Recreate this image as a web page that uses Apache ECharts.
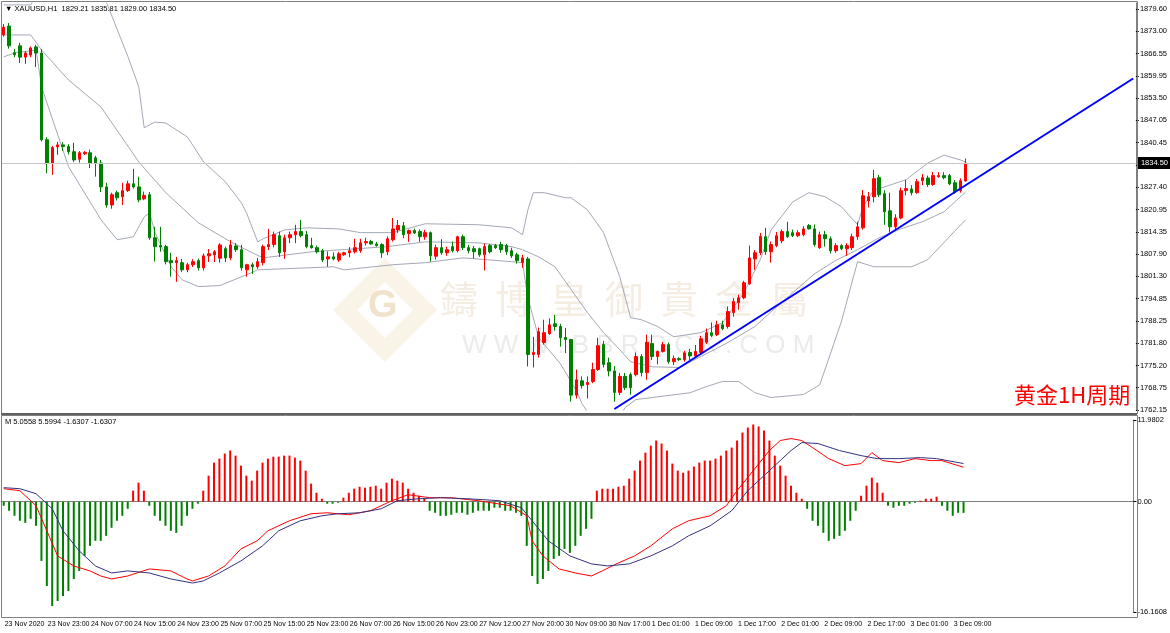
<!DOCTYPE html>
<html>
<head>
<meta charset="utf-8">
<script src="https://cdn.jsdelivr.net/npm/echarts@6/dist/echarts.min.js"></script>
<style>
  html, body { margin: 0; padding: 0; background: #fff; }
  #main { width: 1170px; height: 633px; }
</style>
</head>
<body>
<div id="main"></div>
<script>
// 数据 (hourly XAUUSD bars, [open, close, low, high])
const candles = [
  [1872.0,1874.3,1871.5,1875.2],[1874.6,1868.8,1868.0,1875.5],[1866.8,1866.2,1865.5,1867.9],[1868.8,1865.5,1863.8,1869.7],
  [1865.5,1866.7,1863.5,1867.3],[1866.1,1868.2,1865.5,1868.6],[1868.5,1866.7,1862.6,1869.1],[1866.7,1841.3,1840.8,1867.9],
  [1841.3,1834.5,1831.5,1842.0],[1834.5,1839.0,1831.0,1839.5],[1839.2,1839.8,1836.9,1840.7],[1839.8,1839.3,1838.0,1840.6],
  [1839.3,1837.8,1837.0,1840.0],[1837.8,1835.4,1834.8,1840.4],[1835.6,1837.5,1834.6,1838.0],[1837.2,1837.6,1836.8,1838.0],
  [1837.5,1834.5,1833.0,1838.4],[1836.0,1834.5,1830.5,1836.6],[1834.5,1827.5,1826.0,1835.4],[1827.5,1822.2,1821.4,1828.7],
  [1822.2,1825.2,1821.1,1825.8],[1825.8,1824.3,1823.5,1826.4],[1824.6,1826.4,1822.2,1828.7],[1826.4,1828.4,1826.0,1829.3],
  [1828.4,1827.5,1827.0,1832.8],[1827.5,1823.7,1823.0,1830.5],[1824.0,1825.0,1823.6,1826.1],[1825.2,1812.6,1812.0,1826.0],
  [1812.6,1810.0,1805.6,1815.8],[1810.3,1809.9,1808.5,1815.8],[1810.0,1805.6,1804.8,1810.5],[1805.9,1805.3,1801.2,1808.2],
  [1805.3,1805.9,1799.7,1807.0],[1805.3,1803.2,1802.6,1806.4],[1803.2,1804.7,1802.5,1805.3],[1804.7,1805.6,1804.0,1806.3],
  [1805.9,1803.8,1803.0,1806.5],[1803.8,1807.3,1803.0,1808.0],[1807.3,1807.9,1805.5,1809.3],[1807.6,1808.5,1805.5,1809.0],
  [1806.6,1810.5,1805.3,1811.0],[1809.4,1806.7,1805.5,1810.0],[1806.7,1810.5,1806.0,1812.0],[1810.2,1809.1,1808.5,1811.0],
  [1809.1,1803.8,1803.0,1810.5],[1803.2,1804.7,1801.2,1805.0],[1804.7,1804.1,1802.0,1805.3],[1804.1,1805.6,1803.5,1806.7],
  [1805.3,1810.0,1804.5,1810.6],[1810.0,1810.6,1809.0,1815.2],[1810.6,1813.5,1809.8,1814.4],[1813.2,1808.2,1807.0,1814.4],
  [1808.5,1812.6,1806.4,1813.5],[1812.6,1813.5,1811.0,1814.4],[1813.5,1814.4,1811.0,1816.4],[1814.4,1813.2,1812.7,1817.8],
  [1813.5,1810.0,1809.5,1814.6],[1810.3,1809.7,1809.4,1812.6],[1809.7,1808.5,1808.0,1810.3],[1808.8,1806.1,1805.5,1809.3],
  [1806.4,1807.0,1804.1,1808.6],[1807.0,1806.4,1806.0,1808.3],[1806.1,1807.9,1805.5,1808.5],[1807.6,1808.2,1807.3,1808.5],
  [1808.2,1808.8,1806.9,1809.9],[1808.5,1809.7,1808.0,1812.3],[1808.8,1811.1,1808.2,1812.3],[1811.1,1811.5,1810.3,1812.6],
  [1811.5,1810.8,1810.5,1812.0],[1810.8,1810.3,1810.0,1811.4],[1810.6,1808.2,1806.7,1811.0],[1808.5,1812.3,1807.5,1813.0],
  [1812.0,1815.2,1811.5,1818.4],[1814.9,1816.2,1814.0,1817.8],[1816.1,1813.5,1812.5,1817.2],[1813.8,1814.7,1811.4,1815.0],
  [1814.7,1814.0,1813.7,1815.3],[1814.4,1812.9,1811.4,1815.0],[1812.9,1814.1,1812.0,1814.9],[1814.1,1807.3,1805.6,1814.4],
  [1807.2,1809.7,1806.2,1810.6],[1809.7,1808.2,1807.6,1812.2],[1808.2,1809.1,1807.3,1810.0],[1810.0,1808.8,1808.3,1811.5],
  [1808.8,1812.9,1808.3,1813.2],[1812.9,1809.7,1809.0,1813.5],[1809.7,1808.8,1808.0,1810.5],[1809.4,1808.5,1806.5,1810.2],
  [1809.4,1807.6,1807.0,1809.7],[1807.6,1810.0,1803.0,1810.9],[1810.3,1808.5,1808.0,1810.8],[1810.3,1809.7,1809.3,1810.8],
  [1810.6,1809.1,1808.2,1811.4],[1810.3,1808.5,1807.6,1810.8],[1808.8,1807.3,1806.7,1809.7],[1807.6,1805.9,1805.0,1808.2],
  [1805.3,1806.7,1803.8,1807.6],[1806.4,1778.4,1774.9,1807.0],[1778.4,1779.0,1774.6,1783.6],[1778.4,1785.1,1777.5,1786.3],
  [1781.9,1784.8,1781.3,1788.6],[1784.5,1787.1,1784.2,1789.0],[1787.4,1786.6,1785.4,1790.0],[1786.6,1783.3,1780.7,1787.4],
  [1783.4,1782.8,1778.8,1786.2],[1782.8,1766.5,1764.6,1783.0],[1766.5,1771.0,1765.5,1774.0],[1770.7,1769.3,1768.4,1772.0],
  [1769.6,1770.2,1765.5,1772.0],[1770.5,1774.0,1770.0,1776.0],[1774.0,1781.0,1773.6,1783.3],[1781.3,1775.5,1774.6,1782.4],
  [1776.0,1773.6,1772.0,1777.5],[1773.6,1767.3,1764.6,1775.0],[1767.3,1772.0,1766.5,1773.0],[1772.0,1768.7,1768.0,1773.0],
  [1772.5,1768.7,1766.6,1773.1],[1772.5,1777.8,1772.0,1779.0],[1777.8,1773.1,1772.0,1778.5],[1773.1,1782.0,1771.0,1784.2],
  [1781.6,1777.8,1776.8,1784.2],[1777.8,1779.3,1775.5,1779.6],[1779.3,1781.3,1779.0,1782.1],[1781.3,1776.3,1775.7,1781.9],
  [1776.3,1777.2,1775.3,1778.1],[1777.2,1776.9,1776.5,1777.6],[1776.9,1778.9,1776.3,1779.5],[1779.0,1778.0,1776.8,1780.0],
  [1778.0,1779.3,1777.5,1781.2],[1779.0,1783.0,1778.6,1783.9],[1782.0,1784.8,1781.5,1786.0],[1784.8,1784.0,1783.5,1787.8],
  [1784.2,1787.1,1783.8,1788.3],[1787.1,1786.0,1785.5,1788.3],[1786.6,1791.0,1786.0,1792.5],[1790.7,1793.9,1789.5,1794.9],
  [1793.6,1795.0,1791.5,1795.9],[1795.0,1799.4,1794.6,1800.0],[1799.1,1806.7,1798.8,1810.3],[1806.4,1808.2,1803.2,1809.0],
  [1808.2,1813.0,1807.5,1814.0],[1812.9,1808.5,1807.6,1815.5],[1808.5,1810.6,1805.3,1811.5],[1810.3,1813.2,1809.8,1814.3],
  [1811.7,1814.4,1811.0,1815.0],[1814.4,1812.9,1812.5,1817.3],[1814.1,1813.2,1812.8,1815.0],[1813.2,1814.1,1812.8,1814.8],
  [1813.5,1815.2,1813.0,1816.0],[1816.2,1815.2,1815.0,1816.6],[1815.2,1810.6,1810.0,1816.5],[1809.7,1813.5,1809.3,1814.4],
  [1813.5,1812.3,1810.0,1814.6],[1812.3,1808.8,1808.0,1813.0],[1808.8,1810.3,1808.2,1811.0],[1810.3,1809.4,1809.0,1810.7],
  [1809.4,1810.3,1807.3,1811.0],[1809.7,1812.9,1809.0,1813.8],[1812.9,1815.8,1812.0,1817.3],[1815.5,1824.9,1815.0,1826.6],
  [1823.4,1824.6,1821.5,1826.0],[1824.6,1829.9,1823.0,1832.5],[1830.2,1825.2,1824.5,1831.0],[1825.5,1820.2,1816.4,1826.5],
  [1820.5,1815.8,1814.1,1825.8],[1815.8,1818.4,1815.0,1819.5],[1818.4,1826.4,1818.0,1827.3],[1826.4,1827.0,1825.0,1829.6],
  [1826.9,1825.8,1825.0,1828.0],[1825.8,1829.0,1825.5,1829.8],[1829.3,1830.2,1828.0,1831.3],[1830.1,1828.2,1827.5,1830.8],
  [1828.2,1830.8,1827.8,1831.9],[1830.5,1830.8,1830.2,1831.8],[1830.8,1830.2,1829.7,1831.8],[1830.8,1828.4,1828.0,1831.3],
  [1828.7,1826.1,1825.5,1829.5],[1826.4,1829.3,1825.8,1830.0],[1829.21,1834.50,1829.00,1835.81]
]

// Bollinger bands, [bar index, price]
const bbUpper = [[0,1880.8],[5,1880.8],[7,1886],[12,1893],[19,1881.6],[23,1865.6],[25,1856.8],[26,1844.8],[28,1846.5],
  [30,1846.2],[34,1842.1],[37,1834.8],[41,1829.0],[44,1822.8],[45,1819.6],[47,1811.4],[48,1812.3],[52,1814.9],[56,1815.5],
  [62,1815.2],[66,1814.1],[72,1814.1],[78,1816.7],[88,1816.4],[94,1815.5],[96,1813.5],[97,1820.8],[98,1825.8],[100,1825.8],
  [104,1824.3],[105,1824.3],[108,1820.8],[111,1814.1],[114,1801.2],[116,1789.2],[118,1788.6],[121,1786.6],[124,1783.6],
  [129,1784.8],[133,1787.7],[137,1796.5],[140,1806.2],[142,1814.9],[146,1823.1],[149,1825.8],[152,1824.6],[155,1821.7],
  [158,1816.4],[159,1821.7],[161,1826.6],[163,1827.5],[167,1829.6],[171,1834.5],[174,1836.8],[177,1835.4],[178,1834.8]]
const bbMiddle = [[0,1872.0],[5,1872.0],[7,1867.6],[12,1858.8],[18,1850.9],[25,1834.8],[30,1825.8],[36,1817.0],[42,1811.4],
  [46,1808.2],[48,1806.7],[57,1808.5],[71,1810.0],[78,1811.4],[88,1811.1],[94,1810.0],[96,1809.1],[99,1807.0],[102,1804.1],
  [105,1797.4],[108,1790.7],[111,1784.8],[114,1779.8],[116,1776.3],[120,1774.8],[125,1774.6],[129,1777.8],[134,1781.9],
  [139,1786.6],[142,1790.9],[146,1796.5],[150,1802.0],[154,1806.0],[158,1809.1],[162,1812.6],[166,1815.2],[170,1817.3],
  [174,1820.2],[178,1826.0]]
const bbLower = [[0,1865.6],[2,1866.7],[6,1867.6],[7,1856.8],[12,1833.4],[18,1817.9],[21,1812.0],[24,1812.9],[26,1818.7],
  [27,1819.9],[28,1814.1],[31,1804.1],[33,1800.3],[36,1798.3],[40,1798.6],[45,1801.8],[47,1803.2],[61,1804.1],[63,1803.2],
  [72,1804.7],[78,1805.3],[85,1806.7],[94,1805.6],[96,1805.3],[97,1795.0],[99,1783.3],[103,1775.7],[106,1767.8],[107,1764.0],
  [110,1757.0],[113,1758.0],[115,1762.9],[117,1765.2],[120,1765.8],[127,1767.2],[130,1769.0],[133,1770.5],[136,1770.5],
  [139,1767.2],[142,1765.8],[148,1766.7],[151,1769.5],[155,1788.0],[158,1805.6],[161,1804.1],[168,1804.1],[171,1806.2],
  [175,1812.9],[178,1817.9]]

// MACD
const macdHist = [-0.59,-1.32,-2.06,-2.79,-3.09,-2.5,-3.53,-8.67,-12.35,-15.29,-14.55,-13.82,-13.08,-11.32,-10.14,-7.94,
  -6.47,-5.73,-5.73,-5.0,-3.82,-2.79,-2.06,-1.03,1.62,2.79,1.62,-0.59,-2.06,-2.79,-3.53,-4.26,-4.56,-3.53,-2.06,-1.03,
  -0.29,1.62,3.82,5.73,6.32,7.06,7.5,6.76,5.29,3.82,3.09,4.56,5.73,6.32,6.6,6.6,6.76,6.76,6.47,6.03,4.56,2.65,1.32,0.44,
  -0.29,-0.29,-0.15,0.59,1.32,1.91,2.2,2.06,2.2,2.35,1.91,2.79,3.38,3.09,2.79,1.91,1.32,0.88,0.44,-1.32,-1.62,-2.06,
  -2.06,-1.91,-1.62,-1.62,-1.91,-1.62,-1.32,-1.32,-1.32,-0.88,-0.88,-1.32,-1.32,-1.62,-2.06,-6.47,-10.88,-12.05,-11.32,
  -10.14,-8.38,-7.94,-6.91,-7.5,-6.47,-5.0,-3.97,-2.5,1.62,1.91,1.91,1.91,2.2,2.35,3.38,4.56,6.03,7.2,8.23,8.97,8.53,7.5,
  5.59,4.56,4.26,4.56,5.15,5.73,6.03,6.03,6.32,6.76,7.5,7.94,8.97,10.14,10.88,11.32,11.03,10.44,8.97,6.76,5.29,3.82,
  2.35,1.32,0.44,-1.03,-2.79,-3.53,-4.56,-5.73,-5.44,-5.0,-4.26,-2.79,-1.32,0.88,2.35,3.53,2.79,1.32,-0.59,-0.88,-0.59,
  -0.59,-0.29,-0.15,0.15,0.44,0.44,0.74,-0.59,-1.32,-2.06,-1.62,-1.6307]
const macdMain = [[0,1.91],[3,1.62],[6,-0.59],[8,-4.26],[10,-7.94],[13,-9.41],[16,-10.14],[18,-10.88],[20,-11.32],[23,-10.88],
  [27,-9.85],[31,-10.14],[34,-11.32],[35,-11.61],[38,-10.88],[41,-9.41],[44,-6.91],[47,-5.73],[49,-4.26],[53,-2.79],
  [57,-1.76],[60,-1.62],[64,-1.91],[68,-1.32],[72,0.15],[75,1.03],[79,0.59],[83,0.59],[88,0.15],[94,-0.59],[97,-2.06],
  [98,-5.73],[100,-7.94],[103,-9.85],[106,-10.44],[109,-10.88],[111,-10.14],[114,-8.97],[117,-7.94],[120,-6.47],
  [124,-3.97],[127,-2.79],[131,-2.06],[134,-0.59],[136,1.62],[139,4.56],[142,7.5],[144,8.97],[146,9.26],[148,8.97],
  [150,7.94],[153,6.32],[156,5.29],[159,5.59],[161,7.2],[163,6.03],[166,5.73],[169,6.32],[172,6.03],[174,6.03],[178,5.0558]]
const macdSignal = [[0,2.06],[3,1.91],[6,1.18],[9,-1.03],[11,-4.26],[14,-7.2],[17,-9.41],[20,-10.44],[23,-10.14],[27,-10.44],
  [31,-11.32],[35,-11.91],[37,-11.61],[40,-10.44],[44,-8.67],[48,-6.47],[51,-4.26],[55,-2.79],[59,-2.06],[62,-1.76],
  [66,-1.62],[70,-1.03],[73,0.15],[77,0.44],[81,0.59],[86,0.44],[92,0.15],[96,-0.88],[98,-2.79],[101,-5.73],[105,-7.94],
  [109,-9.11],[112,-9.41],[116,-9.11],[120,-7.94],[124,-6.47],[127,-5.0],[131,-3.53],[135,-1.32],[138,1.62],[142,4.56],
  [146,7.5],[148,8.67],[151,8.53],[155,7.5],[159,6.76],[162,6.32],[166,6.32],[170,6.47],[173,6.32],[178,5.5994]]

// 刻度
const tickLabels = ['23 Nov 2020','23 Nov 23:00','24 Nov 07:00','24 Nov 15:00','24 Nov 23:00','25 Nov 07:00','25 Nov 15:00',
  '25 Nov 23:00','26 Nov 07:00','26 Nov 15:00','26 Nov 23:00','27 Nov 12:00','27 Nov 20:00','30 Nov 09:00','30 Nov 17:00',
  '1 Dec 01:00','1 Dec 09:00','1 Dec 17:00','2 Dec 01:00','2 Dec 09:00','2 Dec 17:00','3 Dec 01:00','3 Dec 09:00']
const priceLabels = ['1762.15','1768.75','1775.20','1781.80','1788.25','1794.85','1801.30','1807.90','1814.35','1820.95',
  '1827.40','','1840.45','1847.05','1853.50','1859.95','1866.55','1873.00','1879.60']
const lastPrice = 1834.50
const trendLine = [[113, 1762.45], [209, 1859.25]]

const slotCount = 210 // bars + empty space on the right
const categories = []
for (let i = 0; i < slotCount; i++) categories.push(String(i))

const priceBase = 1762.15
const priceStep = (1879.60 - priceBase) / 18
const font = 'Liberation Sans, Arial, sans-serif'

const myChart = echarts.init(document.getElementById('main'))
const options = {
  animation: false,
  backgroundColor: '#fff',
  grid: [
    { left: 1, top: 3, width: 1136, height: 407 },
    { left: 1, top: 420, width: 1136, height: 192 }
  ],
  xAxis: [
    { type: 'category', gridIndex: 0, data: categories, show: false },
    {
      type: 'category', gridIndex: 1, data: categories, offset: 6,
      axisLine: { lineStyle: { color: '#808080' } },
      axisTick: { interval: 7, alignWithLabel: true, length: 3, lineStyle: { color: '#000' } },
      axisLabel: {
        interval: 7, align: 'left', margin: 3, padding: [0, 0, 0, 1],
        showMinLabel: true, hideOverlap: false,
        fontSize: 7, fontFamily: font, color: '#000',
        formatter: (v, idx) => tickLabels[idx / 8] || ''
      }
    }
  ],
  yAxis: [
    {
      type: 'value', gridIndex: 0, position: 'right',
      min: priceBase, max: 1879.60 + 6 * 0.2929, interval: priceStep,
      axisLine: { show: true, lineStyle: { color: '#808080' } },
      axisTick: { show: true, length: 3, lineStyle: { color: '#000' } },
      splitLine: { show: false },
      axisLabel: {
        fontSize: 7.5, fontFamily: font, color: '#000', margin: 4, showMaxLabel: false,
        formatter: v => {
          const j = Math.round((v - priceBase) / priceStep)
          if (Math.abs(v - (priceBase + j * priceStep)) > 0.6) return ''
          return priceLabels[j] || ''
        }
      }
    },
    {
      type: 'value', gridIndex: 1, position: 'right',
      min: -16.1608, max: 11.9802, interval: 16.1608,
      axisLine: { show: true, lineStyle: { color: '#808080' } },
      axisTick: { show: true, length: 3, lineStyle: { color: '#000' } },
      splitLine: { show: false },
      axisLabel: {
        fontSize: 7.5, fontFamily: font, color: '#000', margin: 4,
        formatter: v => Math.abs(v) < 1e-6 ? '0.00' : v.toFixed(4)
      }
    }
  ],
  series: [
    {
      name: 'XAUUSD', type: 'candlestick', xAxisIndex: 0, yAxisIndex: 0,
      data: candles, barWidth: 3,
      itemStyle: { color: '#ff0000', color0: '#008000', borderColor: '#ff0000', borderColor0: '#008000', borderWidth: 1 },
      markLine: {
        silent: true, symbol: ['none', 'none'], animation: false,
        data: [
          {
            yAxis: lastPrice,
            lineStyle: { color: '#c8c8c8', type: 'solid', width: 1 },
            label: {
              show: true, position: 'end', distance: 2, formatter: lastPrice.toFixed(2),
              backgroundColor: '#000', color: '#fff', fontSize: 7.5, fontFamily: font, padding: [2, 3]
            }
          },
          [
            { coord: trendLine[0], lineStyle: { color: '#0000ff', width: 2, type: 'solid' }, label: { show: false } },
            { coord: trendLine[1] }
          ]
        ]
      }
    },
    { type: 'line', data: bbUpper, showSymbol: false, lineStyle: { color: '#a2a8b6', width: 1 }, z: 1 },
    { type: 'line', data: bbMiddle, showSymbol: false, lineStyle: { color: '#a2a8b6', width: 1 }, z: 1 },
    { type: 'line', data: bbLower, showSymbol: false, lineStyle: { color: '#a2a8b6', width: 1 }, z: 1 },
    {
      type: 'bar', xAxisIndex: 1, yAxisIndex: 1, data: macdHist, barWidth: 2,
      itemStyle: { color: p => p.value >= 0 ? '#ff0000' : '#008000' }
    },
    { type: 'line', xAxisIndex: 1, yAxisIndex: 1, data: macdMain, showSymbol: false, lineStyle: { color: '#ff0000', width: 1 } },
    { type: 'line', xAxisIndex: 1, yAxisIndex: 1, data: macdSignal, showSymbol: false, lineStyle: { color: '#333380', width: 1 } }
  ],
  graphic: [
    // 水印
    { type: 'polygon', z: 0, shape: { points: [[385, 258], [437, 310], [385, 362], [333, 310]] }, style: { fill: 'rgba(236,214,178,0.3)' } },
    { type: 'polygon', z: 0, shape: { points: [[385, 282], [413, 310], [385, 338], [357, 310]] }, style: { fill: '#fff' } },
    { type: 'text', z: 0, left: 368, top: 288, style: { text: 'G', fontSize: 38, fontWeight: 'bold', fontFamily: font, fill: 'rgba(224,190,140,0.45)' } },
    { type: 'text', z: 0, left: 440, top: 280, style: { text: '鑄  博  皇  御  貴  金  屬', fontSize: 38, fontFamily: 'Noto Sans CJK TC', fill: 'rgba(232,210,182,0.4)' } },
    { type: 'text', z: 0, left: 462, top: 333, style: { text: 'W W W . B B R O C K . C O M', fontSize: 26, fontFamily: font, fill: 'rgba(205,205,205,0.4)' } },
    // 边框
    { type: 'rect', z: 10, shape: { x: 1.5, y: 1.5, width: 1136, height: 412 }, style: { fill: 'none', stroke: '#808080', lineWidth: 1 } },
    { type: 'rect', z: 10, shape: { x: 1.5, y: 415.5, width: 1136, height: 202 }, style: { fill: 'none', stroke: '#808080', lineWidth: 1 } },
    { type: 'line', z: 10, shape: { x1: 1, y1: 414, x2: 1137, y2: 414 }, style: { stroke: '#606060', lineWidth: 2 } },
    // 标题
    { type: 'text', z: 10, left: 5, top: 5, style: { text: '▼ XAUUSD,H1  1829.21 1835.81 1829.00 1834.50', fontSize: 7.5, fontFamily: font, fill: '#000' } },
    { type: 'text', z: 10, left: 5, top: 418, style: { text: 'M 5.0558 5.5994 -1.6307 -1.6307', fontSize: 7.5, fontFamily: font, fill: '#000' } },
    { type: 'text', z: 10, left: 1014, top: 384, style: { text: '黄金1H周期', fontSize: 22, fontFamily: 'Noto Sans CJK SC', fill: '#ff0000' } }
  ]
}
myChart.setOption(options)
window.onresize = myChart.resize
</script>
</body>
</html>
